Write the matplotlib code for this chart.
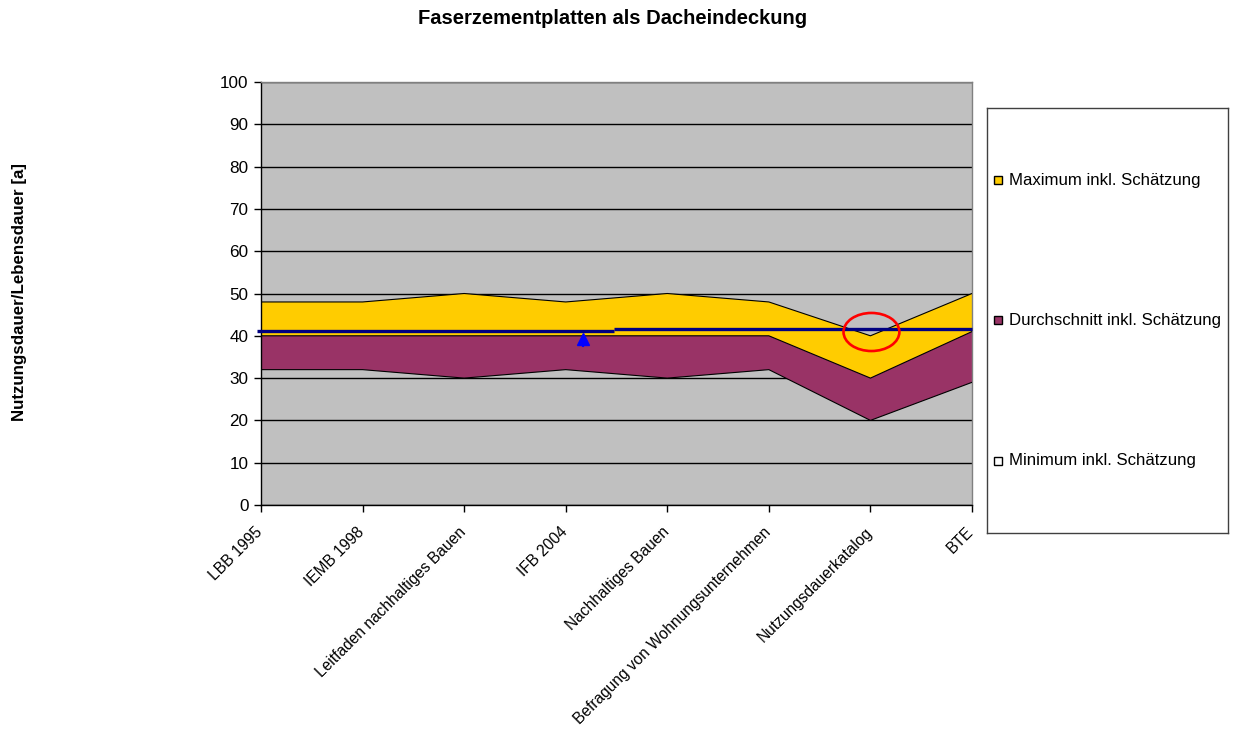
import matplotlib
matplotlib.use("Agg")
import matplotlib.pyplot as plt
from matplotlib.patches import Ellipse, Rectangle
from matplotlib.transforms import ScaledTranslation
import numpy as np

plt.rcParams['font.family'] = ['Liberation Sans', 'DejaVu Sans']

categories = ["LBB 1995", "IEMB 1998", "Leitfaden nachhaltiges Bauen", "IFB 2004",
              "Nachhaltiges Bauen", "Befragung von Wohnungsunternehmen",
              "Nutzungsdauerkatalog", "BTE"]
minimum = [32, 32, 30, 32, 30, 32, 20, 29]
durchschnitt = [40, 40, 40, 40, 40, 40, 30, 41]
maximum = [48, 48, 50, 48, 50, 48, 40, 50]

# blue reference line (two segments) and marker
ref_x_left = [-0.04, 3.48]
ref_y_left = [41.25, 41.25]
ref_x_right = [3.48, 7.0]
ref_y_right = [41.6, 41.6]
marker_x = 3.17
marker_y = 39.3
circle_x, circle_y = 6.01, 40.9

series_labels = ["Maximum inkl. Schätzung", "Durchschnitt inkl. Schätzung", "Minimum inkl. Schätzung"]
gold = "#FFCC00"
maroon = "#993366"
bg = "#C0C0C0"

fig = plt.figure(figsize=(12.35, 7.4), dpi=100)
ax = fig.add_axes([261/1235, 1-505/740, (972-261)/1235, (505-82)/740])
ax.set_facecolor(bg)

x = np.arange(len(categories))
ax.fill_between(x, durchschnitt, maximum, facecolor=gold, edgecolor='none', zorder=2)
ax.fill_between(x, minimum, durchschnitt, facecolor=maroon, edgecolor='none', zorder=2)
ax.plot(x, maximum, color='black', lw=0.8, zorder=3)
ax.plot(x, durchschnitt, color='black', lw=0.8, zorder=3)
ax.plot(x, minimum, color='black', lw=0.8, zorder=3)

ax.set_ylim(0, 100)
ax.set_xlim(0, len(categories) - 1)
ax.set_yticks(np.arange(0, 101, 10))
ax.yaxis.grid(True, color='black', lw=1.0, zorder=1)
ax.set_axisbelow(True)

ax.plot(ref_x_left, ref_y_left, color='#000080', lw=2.4, zorder=5, clip_on=False, solid_capstyle='butt')
ax.plot(ref_x_right, ref_y_right, color='#000080', lw=2.4, zorder=5, clip_on=False, solid_capstyle='butt')
ax.plot([marker_x, marker_x], [37.6, 39.5], color='#0000FF', lw=1.5, zorder=6)
ax.plot([marker_x], [marker_y], marker='^', color='#0000FF', markersize=9, zorder=6, lw=0)

ax.add_patch(Ellipse((circle_x, circle_y), 0.55, 9.0, fill=False, edgecolor='#FF0000', lw=1.9, zorder=7))

ax.set_xticks(x)
ax.set_xticklabels(categories, rotation=45, ha='right', va='top', rotation_mode='anchor', fontsize=11.2)
ax.tick_params(axis='both', direction='out', length=5, width=1, colors='black')
ax.tick_params(axis='y', labelsize=12.3, pad=4)
ax.tick_params(axis='x', pad=9)
offset = ScaledTranslation(-6/100, 0, fig.dpi_scale_trans)
for lbl in ax.get_xticklabels():
    lbl.set_transform(lbl.get_transform() + offset)
for s in ['left', 'bottom']:
    ax.spines[s].set_color('black')
    ax.spines[s].set_linewidth(1.0)
for s in ['top', 'right']:
    ax.spines[s].set_color('#808080')
    ax.spines[s].set_linewidth(1.0)

fig.text(613/1235, 1-18/740, "Faserzementplatten als Dacheindeckung", ha='center', va='center',
         fontsize=14.5, fontweight='bold')
fig.text(20/1235, 1-292/740, "Nutzungsdauer/Lebensdauer [a]", ha='center', va='center',
         rotation=90, fontsize=12.2, fontweight='bold')

# legend box
lax = fig.add_axes([987/1235, 1-533/740, (1228-987)/1235, (533-108)/740])
lax.set_xlim(0, 241)
lax.set_ylim(425, 0)
lax.set_xticks([])
lax.set_yticks([])
for s in lax.spines.values():
    s.set_color('#404040')
    s.set_linewidth(1.0)
leg_colors = [gold, maroon, 'white']
leg_y = [72, 212, 353]
for lab, c, yy in zip(series_labels, leg_colors, leg_y):
    lax.add_patch(Rectangle((7, yy - 4), 8, 8, facecolor=c, edgecolor='black', lw=1.0))
    lax.text(22, yy, lab, ha='left', va='center', fontsize=12.1)

fig.savefig("out.png", dpi=100)
